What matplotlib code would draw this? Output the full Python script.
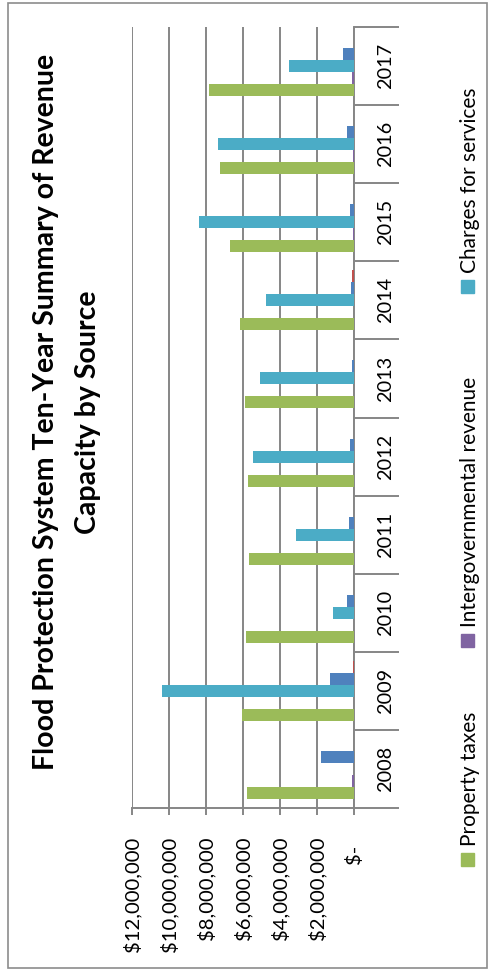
import numpy as np
import matplotlib.pyplot as plt
from matplotlib.patches import Rectangle
from matplotlib.transforms import blended_transform_factory

years = [2008, 2009, 2010, 2011, 2012, 2013, 2014, 2015, 2016, 2017]

property_taxes = [5780000, 6070000, 5860000, 5680000, 5710000, 5900000, 6140000, 6700000, 7260000, 7840000]
intergovernmental = [120000, 0, 0, 0, 0, 0, 0, 80000, 40000, 120000]
charges_for_services = [0, 10380000, 1120000, 3120000, 5440000, 5060000, 4760000, 8400000, 7370000, 3500000]
other_revenue = [1770000, 1300000, 380000, 290000, 200000, 100000, 140000, 200000, 400000, 580000]
misc_revenue = [0, 70000, 0, 0, 0, 0, 130000, 0, 0, 0]

series = [property_taxes, intergovernmental, charges_for_services, other_revenue, misc_revenue]
series_colors = ["#9BBB59", "#8064A2", "#4BACC6", "#4F81BD", "#C0504D"]
legend_names = ["Property taxes", "Intergovernmental revenue", "Charges for services"]

value_ticks = [0, 2000000, 4000000, 6000000, 8000000, 10000000, 12000000]

plt.rcParams["font.family"] = ["Lato", "DejaVu Sans"]

W, H = 492, 973
grid_color = "#868686"

fig = plt.figure(figsize=(W / 100, H / 100), dpi=100)


def box(x0, y0, x1, y1):
    # pixel box (top-left origin) -> figure fraction rect
    return [x0 / W, 1 - y1 / H, (x1 - x0) / W, (y1 - y0) / H]


# outer chart border
fig.patches.append(Rectangle((8 / W, 1 - 968 / H), 479 / W, 965 / H, transform=fig.transFigure,
                             fill=False, edgecolor="#8c8c8c", linewidth=1.2))

# the whole chart is laid out turned on its side: values run right to left
ax = fig.add_axes(box(132, 27, 354, 808))

pos = np.arange(len(years))
bar_h = 1 / 6.5
for i, (vals, color) in enumerate(zip(series, series_colors)):
    ax.barh(pos + (i - 2) * bar_h, vals, height=bar_h, color=color, zorder=3)

ax.set_xlim(12000000, 0)
ax.set_ylim(-0.5, len(years) - 0.5)

ax.set_xticks(value_ticks)
ax.tick_params(axis="x", direction="out", length=5, width=1.4, color=grid_color, labelbottom=False)
ax.grid(axis="x", color=grid_color, linewidth=1.4, zorder=0)
ax.set_axisbelow(True)

# category boundaries drawn as long ticks through the year labels
ax.yaxis.tick_right()
ax.set_yticks(np.arange(-0.5, len(years)))
ax.tick_params(axis="y", direction="out", length=32.4, width=1.4, color=grid_color,
               labelright=False, labelleft=False)

for side in ("left", "top"):
    ax.spines[side].set_visible(False)
for side in ("right", "bottom"):
    ax.spines[side].set_color(grid_color)
    ax.spines[side].set_linewidth(1.4)

year_tf = blended_transform_factory(ax.transAxes, ax.transData)
for p, yr in zip(pos, years):
    ax.text(1 + 37 / 222, p, str(yr), transform=year_tf, rotation=90, rotation_mode="anchor",
            ha="center", va="baseline", fontsize=14.3)

value_tf = blended_transform_factory(ax.transData, ax.transAxes)
for v in value_ticks:
    label = "$-" if v == 0 else f"${v:,.0f}"
    off = 37 if v == 0 else 29
    ax.text(v, -off / 781, label, transform=value_tf, rotation=90, rotation_mode="anchor",
            ha="right", va="center", fontsize=14.6)

fig.text(67 / W, 1 - 412 / H, "Flood Protection System Ten-Year Summary of Revenue\nCapacity by Source",
         rotation=90, ha="center", va="center", multialignment="center",
         fontsize=20.5, fontweight="bold", linespacing=1.75)

# legend, read bottom to top
legend_squares = [853, 634, 280]
for name, color, sq in zip(legend_names, series_colors, legend_squares):
    fig.patches.append(Rectangle((461 / W, 1 - (sq + 13) / H), 13 / W, 13 / H,
                                 transform=fig.transFigure, color=color))
    fig.text(476 / W, 1 - (sq - 7) / H, name, rotation=90, rotation_mode="anchor",
             ha="left", va="baseline", fontsize=15)

fig.savefig("out.png", dpi=100)
